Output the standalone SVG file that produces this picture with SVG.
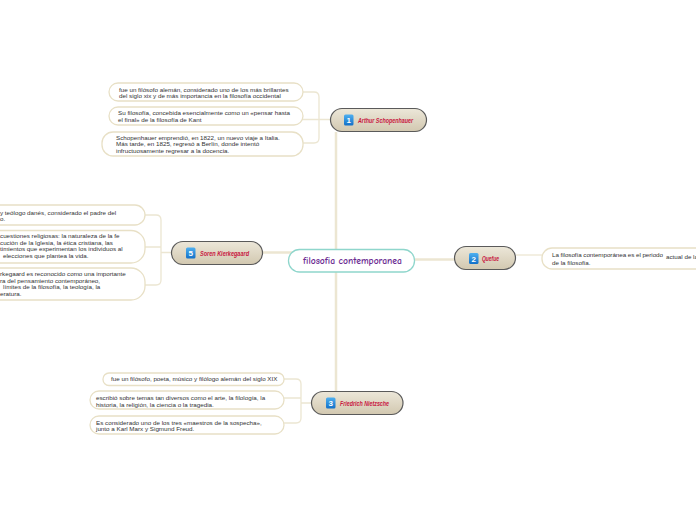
<svg xmlns="http://www.w3.org/2000/svg" width="696" height="520" viewBox="0 0 696 520">
<defs>
<linearGradient id="mg" x1="0" y1="0" x2="0" y2="1">
<stop offset="0" stop-color="#ece7d9"/>
<stop offset="1" stop-color="#d2c8b0"/>
</linearGradient>
<linearGradient id="ig" x1="0" y1="0" x2="0" y2="1">
<stop offset="0" stop-color="#4fb0f0"/>
<stop offset="1" stop-color="#1270c8"/>
</linearGradient>
<style>
.trunk{fill:none;stroke:#ece6d2;stroke-width:2.5}
.br{fill:none;stroke:#ece6d2;stroke-width:1.3}
.main{fill:url(#mg);stroke:#5a5a5a;stroke-width:1.2}
.child{fill:#fff;stroke:#e8e0c6;stroke-width:1.3}
.ct{font-family:"Liberation Sans",Arial,sans-serif;font-size:6.25px;fill:#333}
.tt{font-family:"Liberation Sans",Arial,sans-serif;font-size:6.8px;font-style:italic;font-weight:bold;fill:#c8173f}
.ic{fill:url(#ig)}
.in{font-family:"Liberation Sans",Arial,sans-serif;font-size:8px;font-weight:bold;fill:#fff;text-anchor:middle}
</style>
</defs>
<rect width="696" height="520" fill="#fff"/>
<g id="connectors">
<path class="trunk" d="M336,132 V391"/>
<path class="trunk" d="M263,252.5 H336"/>
<path class="trunk" d="M336,259.5 H454"/>
<path class="br" d="M516,255 H542"/>
<path class="br" d="M303,92 H314 Q319,92 319,97 V138 Q319,143 314,143 H303 M303,119.5 H330"/>
<path class="br" d="M284,379 H296 Q301,379 301,384 V418 Q301,423 296,423 H284 M284,398 H301 M301,403 H311"/>
<path class="br" d="M145,215 H156 Q161,215 161,220 V280 Q161,285 156,285 H145 M145,247 H161 M161,252.5 H171"/>
</g>
<g id="central">
<rect x="288.5" y="249.5" width="126" height="22.5" rx="11" fill="#fff" stroke="#8fd6cc" stroke-width="1.3"/>
<text x="303" y="264" textLength="99" lengthAdjust="spacingAndGlyphs" font-family="'Comic Neue','DejaVu Sans',sans-serif" font-size="9.5" font-weight="bold" fill="#6a2a91">filosofia contemporanea</text>
</g>
<g id="n1">
<rect class="main" x="330.5" y="108.5" width="96" height="23" rx="11.5"/>
<rect class="ic" x="344" y="114.5" width="9.5" height="11" rx="1.5"/>
<text class="in" x="348.8" y="123">1</text>
<text class="tt" x="358" y="122.5" textLength="55" lengthAdjust="spacingAndGlyphs">Arthur Schopenhauer</text>
</g>
<g id="n2">
<rect class="main" x="454.5" y="246.5" width="61" height="23" rx="11.5"/>
<rect class="ic" x="469" y="253" width="9.5" height="11" rx="1.5"/>
<text class="in" x="473.8" y="261.5">2</text>
<text class="tt" x="482" y="261" textLength="17" lengthAdjust="spacingAndGlyphs">Quefue</text>
</g>
<g id="n3">
<rect class="main" x="311.5" y="391.5" width="91.5" height="23" rx="11.5"/>
<rect class="ic" x="326" y="397.5" width="9.5" height="11" rx="1.5"/>
<text class="in" x="330.8" y="406">3</text>
<text class="tt" x="340" y="405.5" textLength="49" lengthAdjust="spacingAndGlyphs">Friedrich Nietzsche</text>
</g>
<g id="n5">
<rect class="main" x="171.5" y="241.5" width="91" height="23" rx="11.5"/>
<rect class="ic" x="186" y="247.5" width="9.5" height="11" rx="1.5"/>
<text class="in" x="190.8" y="256">5</text>
<text class="tt" x="200" y="255.5" textLength="49" lengthAdjust="spacingAndGlyphs">Soren Kierkegaard</text>
</g>
<g id="c1a">
<rect class="child" x="109" y="83" width="194" height="18" rx="9"/>
<text class="ct" x="119" y="91.5">fue un filósofo alemán, considerado uno de los más brillantes</text>
<text class="ct" x="119" y="98">del siglo xix y de más importancia en la filosofía occidental</text>
</g>
<g id="c1b">
<rect class="child" x="109" y="107" width="194" height="18" rx="9"/>
<text class="ct" x="118" y="115.3">Su filosofía, concebida esencialmente como un «pensar hasta</text>
<text class="ct" x="118" y="121.5">el final» de la filosofía de Kant</text>
</g>
<g id="c1c">
<rect class="child" x="102" y="132" width="201" height="24" rx="11"/>
<text class="ct" x="116" y="139.7">Schopenhauer emprendió, en 1822, un nuevo viaje a Italia.</text>
<text class="ct" x="116" y="146">Más tarde, en 1825, regresó a Berlín, donde intentó</text>
<text class="ct" x="116" y="152.5">infructuosamente regresar a la docencia.</text>
</g>
<g id="c2a">
<rect class="child" x="542" y="248" width="170" height="21" rx="10"/>
<text class="ct" x="552" y="257" textLength="111" lengthAdjust="spacing">La filosofía contemporánea es el periodo</text>
<text class="ct" x="666" y="258.7">actual de la</text>
<text class="ct" x="552" y="264.5">de la filosofía.</text>
</g>
<g id="c3a">
<rect class="child" x="103" y="373" width="181" height="12.5" rx="6"/>
<text class="ct" x="111" y="381">fue un filósofo, poeta, músico y filólogo alemán del siglo XIX</text>
</g>
<g id="c3b">
<rect class="child" x="90" y="391" width="194" height="18" rx="9"/>
<text class="ct" x="96" y="400">escribió sobre temas tan diversos como el arte, la filología, la</text>
<text class="ct" x="96" y="406.5">historia, la religión, la ciencia o la tragedia.</text>
</g>
<g id="c3c">
<rect class="child" x="90" y="416" width="194" height="18" rx="9"/>
<text class="ct" x="96" y="424.5">Es considerado uno de los tres «maestros de la sospecha»,</text>
<text class="ct" x="96" y="430.5">junto a Karl Marx y Sigmund Freud.</text>
</g>
<g id="c5a">
<rect class="child" x="-60" y="205" width="205" height="20" rx="10"/>
<text class="ct" x="0" y="214.5">y teólogo danés, considerado el padre del</text>
<text class="ct" x="0" y="221">o.</text>
</g>
<g id="c5b">
<rect class="child" x="-60" y="230.5" width="205" height="32.5" rx="14"/>
<text class="ct" x="0" y="238">cuestiones religiosas: la naturaleza de la fe</text>
<text class="ct" x="0" y="244.5">cución de la Iglesia, la ética cristiana, las</text>
<text class="ct" x="0" y="251">timientos que experimentan los individuos al</text>
<text class="ct" x="3" y="257.5">elecciones que plantea la vida.</text>
</g>
<g id="c5c">
<rect class="child" x="-60" y="268" width="205" height="32" rx="14"/>
<text class="ct" x="0" y="276">rkegaard es reconocido como una importante</text>
<text class="ct" x="0" y="282.5">ra del pensamiento contemporáneo,</text>
<text class="ct" x="3" y="289">límites de la filosofía, la teología, la</text>
<text class="ct" x="0" y="296">eratura.</text>
</g>
</svg>
